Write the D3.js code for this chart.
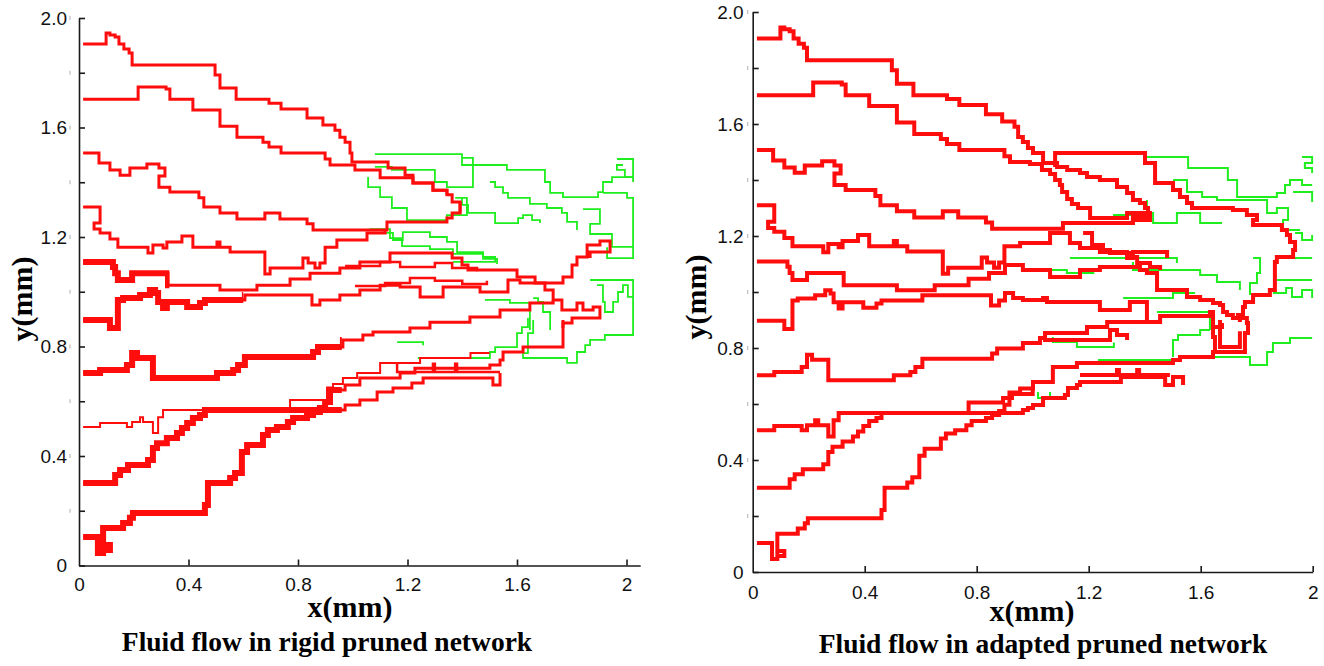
<!DOCTYPE html>
<html>
<head>
<meta charset="utf-8">
<script src="https://cdnjs.cloudflare.com/ajax/libs/d3/7.8.5/d3.min.js"></script>
<style>
  body { margin: 0; background: #fff; }
  .tick text { font-family: "Liberation Sans", Arial, sans-serif; font-size: 19px; fill: #111; }
  .axis path, .axis line { stroke: #1a1a1a; stroke-width: 1.6; }
  .title { font-family: "Liberation Serif", "Times New Roman", serif; font-weight: bold; fill: #000; }
</style>
</head>
<body>
<div id="chart"></div>
<script>
// tick values and labels (mm)
var xTicks = [0, 0.4, 0.8, 1.2, 1.6, 2];
var xLabels = ["0", "0.4", "0.8", "1.2", "1.6", "2"];
var yTicks = [0, 0.2, 0.4, 0.6, 0.8, 1.0, 1.2, 1.4, 1.6, 1.8, 2.0];
var yLabels = ["0", "", "0.4", "", "0.8", "", "1.2", "", "1.6", "", "2.0"];

// red flow paths: inlet parts are the same in both networks (x, y in mm, step corners)
var headA = [[0.015,1.905],[0.099,1.945],[0.113,1.938],[0.132,1.931],[0.146,1.905],[0.164,1.887],[0.183,1.872],[0.194,1.828],[0.497,1.792],[0.515,1.744],[0.574,1.703],[0.694,1.689],[0.738,1.668],[0.833,1.635],[0.891,1.609],[0.935,1.590]];
var headB = [[0.015,1.703],[0.216,1.748],[0.318,1.741],[0.332,1.703],[0.416,1.664],[0.515,1.605],[0.577,1.564],[0.672,1.546],[0.694,1.529],[0.738,1.507],[0.899,1.485]];
var headC = [[0.015,1.507],[0.073,1.470],[0.113,1.445],[0.150,1.426],[0.186,1.452],[0.248,1.467],[0.292,1.452],[0.314,1.423],[0.292,1.382],[0.332,1.364],[0.438,1.343],[0.456,1.310],[0.515,1.288],[0.577,1.266],[0.679,1.288],[0.734,1.266],[0.833,1.248],[0.855,1.226]];
var headD = [[0.015,1.310],[0.077,1.251],[0.055,1.229],[0.077,1.215],[0.113,1.193],[0.142,1.163],[0.252,1.142],[0.270,1.171],[0.307,1.160],[0.321,1.182],[0.376,1.204],[0.416,1.163],[0.504,1.182],[0.515,1.163],[0.552,1.145],[0.679,1.065],[0.698,1.087],[0.818,1.123],[0.837,1.105],[0.862,1.087],[0.880,1.105],[0.899,1.163]];
var headE = [[0.015,1.109],[0.124,1.090],[0.132,1.068],[0.142,1.043],[0.194,1.068],[0.325,1.024],[0.515,1.006],[0.650,1.024],[0.771,1.047],[0.844,1.068]];
var headF = [[0.015,0.897],[0.113,0.868],[0.142,0.970],[0.161,0.977],[0.223,0.988],[0.259,1.006],[0.278,0.995],[0.289,0.963],[0.307,0.941],[0.321,0.963],[0.395,0.944],[0.442,0.959],[0.460,0.970],[0.606,0.988],[0.851,0.952],[0.880,0.970]];
var headG = [[0.015,0.703],[0.077,0.714],[0.175,0.732],[0.194,0.776],[0.212,0.758],[0.270,0.685],[0.504,0.703],[0.563,0.714],[0.581,0.732],[0.606,0.762],[0.855,0.780],[0.873,0.798]];
var headH = [[0.015,0.506],[0.077,0.521],[0.175,0.506],[0.194,0.524],[0.223,0.542],[0.234,0.524],[0.270,0.484],[0.289,0.542],[0.307,0.568],[0.771,0.605]];
var headI = [[0.015,0.301],[0.132,0.331],[0.150,0.349],[0.179,0.367],[0.252,0.385],[0.270,0.429],[0.285,0.447],[0.321,0.466],[0.358,0.484],[0.376,0.502],[0.395,0.521],[0.416,0.539],[0.442,0.550],[0.460,0.568]];
var headJ = [[0.015,0.104],[0.069,0.046],[0.088,0.075],[0.113,0.057],[0.088,0.137],[0.161,0.155],[0.186,0.174],[0.197,0.192],[0.460,0.221],[0.471,0.301],[0.552,0.320],[0.570,0.338],[0.595,0.415],[0.614,0.440],[0.672,0.477],[0.690,0.495],[0.723,0.506],[0.763,0.524],[0.782,0.539],[0.833,0.550],[0.855,0.561],[0.880,0.575],[0.899,0.597],[0.917,0.641]];

// rigid network: outlet parts
var rigidTailA = [[0.953,1.564],[0.972,1.546],[0.990,1.507],[0.997,1.474],[1.129,1.452],[1.191,1.426],[1.220,1.397],[1.293,1.371],[1.344,1.354],[1.363,1.328],[1.392,1.288]];
var rigidTailB = [[0.917,1.463],[1.008,1.445],[1.100,1.416],[1.220,1.397],[1.293,1.371],[1.344,1.354]];
var rigidTailC = [[1.125,1.255],[1.344,1.269],[1.363,1.288],[1.392,1.328]];
var rigidTailD = [[0.942,1.189],[1.052,1.215],[1.118,1.226]];
var rigidTailE = [[0.953,1.087],[1.026,1.109],[1.136,1.142],[1.363,1.123],[1.399,1.098],[1.421,1.079],[1.600,1.054],[1.666,1.032],[1.768,1.054],[1.801,1.098],[1.819,1.127],[1.856,1.171],[1.903,1.185],[1.940,1.145],[1.867,1.123]];
var rigidTailF = [[0.953,0.988],[1.026,1.006],[1.100,1.024],[1.173,1.017],[1.246,0.981],[1.330,1.017],[1.465,0.999],[1.567,1.043],[1.611,1.032],[1.702,1.006],[1.732,0.970],[1.764,0.933],[1.819,0.959],[1.841,0.933],[1.878,0.944],[1.903,0.904],[1.801,0.886],[1.768,0.868]];
var rigidTailG = [[0.964,0.824],[1.037,0.842],[1.074,0.853],[1.209,0.868],[1.282,0.889],[1.428,0.908],[1.538,0.933],[1.647,0.959],[1.732,0.970]];
var rigidTailH = [[0.906,0.650],[0.928,0.663],[0.964,0.685],[1.016,0.703],[1.100,0.740],[1.246,0.758],[1.430,0.776],[1.500,0.776]];
var rigidTailI = [[0.972,0.586],[1.026,0.605],[1.089,0.634],[1.147,0.648],[1.216,0.667],[1.257,0.685],[1.512,0.659],[1.538,0.703]];
var rigidTailJ = [[0.972,0.659],[1.026,0.685],[1.173,0.703],[1.227,0.721],[1.501,0.732],[1.538,0.751],[1.549,0.780],[1.622,0.798],[1.768,0.897]];
var rigidBranch1 = [[1.162,0.740],[1.162,0.707],[1.293,0.737],[1.300,0.707],[1.374,0.737],[1.381,0.707],[1.538,0.707]];
var rigidBranch2 = [[0.972,1.094],[1.100,1.109],[1.173,1.090],[1.300,1.105],[1.363,1.087],[1.454,1.075]];
var rigidBranch3 = [[1.008,1.021],[1.118,1.032],[1.209,1.050],[1.300,1.040],[1.400,1.028],[1.490,1.040]];

// adapted network: outlet parts
var adaptTailA = [[0.948,1.554],[0.965,1.536],[0.983,1.514],[1.001,1.496],[1.037,1.461],[1.087,1.446],[1.123,1.436],[1.169,1.425],[1.194,1.411],[1.240,1.400],[1.301,1.375],[1.337,1.354],[1.358,1.329],[1.383,1.318],[1.401,1.300],[1.412,1.268],[1.358,1.246],[1.323,1.246]];
var adaptTailB = [[0.919,1.464],[0.990,1.457],[1.033,1.436],[1.062,1.421],[1.080,1.400],[1.097,1.382],[1.105,1.357],[1.123,1.332],[1.140,1.314],[1.162,1.300],[1.205,1.264],[1.337,1.282],[1.419,1.268]];
var adaptTailC = [[1.108,1.246],[1.358,1.257],[1.419,1.268]];
var adaptTailD = [[0.955,1.175],[1.062,1.186],[1.062,1.211],[1.133,1.175],[1.169,1.157],[1.240,1.143],[1.337,1.121],[1.358,1.143],[1.480,1.121]];
var adaptTailE = [[0.901,1.096],[0.965,1.079],[1.062,1.054],[1.169,1.079],[1.240,1.089],[1.383,1.079],[1.408,1.068],[1.444,1.043],[1.444,1.007],[1.551,0.982],[1.598,0.971],[1.644,0.961],[1.669,0.954],[1.680,0.929],[1.694,0.918],[1.715,0.907],[1.740,0.893]];
var adaptTailF = [[0.901,0.996],[0.930,0.979],[0.965,0.971],[1.037,0.979],[1.051,0.964],[1.072,0.964],[1.240,0.936],[1.347,0.964],[1.408,0.964],[1.408,0.900]];
var adaptTailG = [[0.965,0.818],[1.026,0.836],[1.044,0.854],[1.194,0.875],[1.266,0.893],[1.455,0.914],[1.633,0.929],[1.644,0.875]];
var adaptTailH = [[0.894,0.621],[0.926,0.636],[1.000,0.655]];
var adaptTailI = [[0.965,0.579],[0.983,0.586],[1.001,0.596],[1.037,0.621],[1.115,0.632],[1.126,0.657],[1.158,0.668],[1.169,0.679],[1.315,0.696],[1.473,0.668],[1.501,0.696],[1.537,0.668]];
var adaptTailJ = [[0.955,0.655],[1.001,0.679],[1.072,0.696],[1.072,0.732],[1.144,0.732],[1.158,0.746],[1.240,0.746],[1.501,0.757],[1.526,0.768],[1.620,0.768],[1.644,0.786],[1.758,0.786]];
var adaptCollector = [[1.080,1.446],[1.080,1.496],[1.401,1.461],[1.437,1.389],[1.501,1.364],[1.526,1.339],[1.551,1.318],[1.569,1.300],[1.715,1.293],[1.765,1.275],[1.801,1.257],[1.787,1.239],[1.890,1.221],[1.908,1.204],[1.919,1.179],[1.937,1.150],[1.930,1.125],[1.872,1.107],[1.865,1.007],[1.847,0.989],[1.787,0.964],[1.758,0.946],[1.751,0.918],[1.733,0.907],[1.765,0.889],[1.769,0.854],[1.758,0.786],[1.651,0.786],[1.651,0.839],[1.644,0.875],[1.676,0.889]];
var adaptLoop = [[1.669,0.900],[1.669,0.804],[1.740,0.804],[1.740,0.860]];
var adaptBranch1 = [[1.037,0.829],[1.276,0.864],[1.301,0.846],[1.337,0.829]];
var adaptBranch2 = [[1.169,0.704],[1.301,0.721],[1.308,0.704],[1.373,0.721],[1.380,0.704],[1.490,0.704]];
var adaptBranch3 = [[1.180,1.211],[1.212,1.168],[1.251,1.150],[1.276,1.139],[1.347,1.125],[1.373,1.104],[1.419,1.089],[1.455,1.079]];

// green (unused) vessel segments
var rigidGreen = [
  [[1.081,1.503],[1.399,1.463],[1.563,1.445],[1.702,1.401],[1.721,1.361],[1.768,1.346],[1.896,1.364],[1.914,1.401],[1.947,1.419],[2.024,1.401]],
  [[1.965,1.485],[2.024,1.419],[1.994,1.445],[1.965,1.463],[1.987,1.463]],
  [[1.914,1.361],[2.002,1.343],[2.024,1.123],[1.929,1.163]],
  [[1.081,1.456],[1.143,1.445],[1.300,1.401],[1.344,1.382],[1.439,1.489],[1.399,1.489]],
  [[1.056,1.419],[1.056,1.382],[1.100,1.346],[1.143,1.306],[1.198,1.262],[1.337,1.262],[1.344,1.280],[1.417,1.343],[1.374,1.343]],
  [[1.399,1.343],[1.399,1.317],[1.421,1.288],[1.520,1.251],[1.604,1.269],[1.622,1.280],[1.655,1.262],[1.684,1.251]],
  [[1.501,1.401],[1.520,1.382],[1.549,1.361],[1.567,1.343],[1.647,1.321],[1.709,1.306],[1.764,1.288],[1.783,1.255],[1.819,1.226]],
  [[1.841,1.302],[1.903,1.248],[1.867,1.211],[1.947,1.164],[2.024,1.164]],
  [[1.100,1.215],[1.147,1.189],[1.183,1.218],[1.282,1.200],[1.344,1.182],[1.381,1.145],[1.476,1.127],[1.520,1.109],[1.366,1.109]],
  [[1.063,1.229],[1.136,1.196],[1.180,1.167],[1.282,1.156],[1.366,1.138],[1.476,1.120],[1.527,1.101]],
  [[1.483,0.970],[1.574,0.959],[1.647,0.860]],
  [[1.659,0.977],[1.677,0.963],[1.695,0.926],[1.721,0.860]],
  [[1.867,1.043],[2.024,0.842],[1.921,0.824],[1.867,0.805],[1.849,0.780],[1.819,0.740],[1.783,0.758],[1.622,0.776],[1.640,0.849],[1.659,0.897]],
  [[1.892,1.024],[1.914,0.963],[1.921,0.926],[1.951,0.963],[1.969,0.999],[1.987,1.024],[2.005,0.981],[2.024,0.981]],
  [[1.238,0.758],[1.501,0.780],[1.520,0.798],[1.600,0.849],[1.618,0.871],[1.640,0.904]],
  [[1.162,0.816],[1.257,0.805]]
];
var adaptGreen = [
  [[1.401,1.482],[1.555,1.443],[1.697,1.400],[1.730,1.339],[1.872,1.354],[1.901,1.382],[1.919,1.400],[1.962,1.382],[1.998,1.382]],
  [[1.501,1.400],[1.551,1.357],[1.605,1.339],[1.658,1.329],[1.837,1.282],[1.872,1.300],[1.912,1.257],[1.894,1.221],[1.955,1.221]],
  [[1.962,1.482],[1.998,1.461],[1.972,1.443],[1.998,1.425]],
  [[1.930,1.357],[1.998,1.321]],
  [[1.937,1.211],[1.962,1.186],[1.998,1.204]],
  [[1.919,1.121],[1.998,1.121]],
  [[1.787,1.121],[1.812,1.068],[1.801,1.032],[1.776,0.989]],
  [[1.872,1.043],[1.998,1.043]],
  [[1.858,0.996],[1.905,1.014],[1.926,0.982],[1.962,1.007],[1.998,0.979]],
  [[1.287,1.275],[1.358,1.275]],
  [[1.408,1.329],[1.408,1.282],[1.430,1.246],[1.515,1.282],[1.598,1.246],[1.676,1.246]],
  [[1.133,1.121],[1.515,1.104]],
  [[1.358,1.107],[1.358,1.079],[1.598,1.061],[1.658,1.036],[1.740,1.007]],
  [[1.323,0.979],[1.501,0.996],[1.580,0.996]],
  [[1.444,0.929],[1.633,0.864]],
  [[1.501,0.768],[1.501,0.829],[1.519,0.846],[1.598,0.864],[1.633,0.864]],
  [[1.233,0.757],[1.501,0.757]],
  [[1.615,0.768],[1.776,0.739],[1.837,0.786],[1.858,0.818],[1.919,0.836],[1.998,0.836]],
  [[1.072,0.839],[1.072,0.821],[1.158,0.804],[1.240,0.804],[1.290,0.820]],
  [[1.019,0.643],[1.019,0.621],[1.062,0.643]],
  [[1.062,1.079],[1.122,1.068],[1.220,1.068]]
];

var RED = "#ff0d0d", GREEN = "#1eee1e";

// rigid: some inlet lines drawn heavier up to a given x (mm)
var rigidRed = [
  { pts: headA.concat(rigidTailA), w: 3 },
  { pts: headB.concat(rigidTailB), w: 3 },
  { pts: headC.concat(rigidTailC), w: 3 },
  { pts: headD.concat(rigidTailD), w: 3 },
  { pts: headE.concat(rigidTailE), w: 3, thickTo: 0.33 },
  { pts: headF.concat(rigidTailF), w: 3, thickTo: 0.60 },
  { pts: headG.concat(rigidTailG), w: 3, thickTo: 0.96 },
  { pts: headH.concat(rigidTailH), w: 2 },
  { pts: headI.concat(rigidTailI), w: 3, thickTo: 0.96 },
  { pts: headJ.concat(rigidTailJ), w: 3, thickTo: 0.96 },
  { pts: rigidBranch1, w: 2.5 },
  { pts: rigidBranch2, w: 2.5 },
  { pts: rigidBranch3, w: 2.5 }
];
var adaptRed = [
  headA.concat(adaptTailA), headB.concat(adaptTailB), headC.concat(adaptTailC),
  headD.concat(adaptTailD), headE.concat(adaptTailE), headF.concat(adaptTailF),
  headG.concat(adaptTailG), headH.concat(adaptTailH), headI.concat(adaptTailI),
  headJ.concat(adaptTailJ), adaptCollector, adaptLoop, adaptBranch1, adaptBranch2, adaptBranch3
].map(function(p) { return { pts: p, w: 4 }; });

var svg = d3.select("#chart").append("svg")
  .attr("width", 1324)
  .attr("height", 666);

function drawPanel(cfg) {
  var x = d3.scaleLinear().domain([0, cfg.xMax]).range([cfg.left, cfg.right]);
  var y = d3.scaleLinear().domain([0, 2]).range([cfg.bottom, cfg.top]);
  var line = d3.line()
    .x(function(d) { return x(d[0]); })
    .y(function(d) { return y(d[1]); })
    .curve(d3.curveStepAfter);

  var defs = svg.append("defs");
  defs.append("clipPath").attr("id", cfg.id + "-plot").append("rect")
    .attr("x", x(0)).attr("y", y(2) - 10)
    .attr("width", x(cfg.xMax) - x(0) + 1).attr("height", y(0) - y(2) + 10);

  var plot = svg.append("g").attr("clip-path", "url(#" + cfg.id + "-plot)");

  plot.selectAll("path.green").data(cfg.green).join("path")
    .attr("class", "green")
    .attr("d", line)
    .attr("fill", "none")
    .attr("stroke", GREEN)
    .attr("stroke-width", cfg.greenWidth)
    .attr("stroke-linejoin", "miter");

  cfg.red.forEach(function(r, i) {
    plot.append("path")
      .attr("d", line(r.pts))
      .attr("fill", "none")
      .attr("stroke", RED)
      .attr("stroke-width", r.w)
      .attr("stroke-linejoin", "miter");
    if (r.thickTo) {
      var id = cfg.id + "-thick" + i;
      defs.append("clipPath").attr("id", id).append("rect")
        .attr("x", x(0) - 10).attr("y", y(2) - 10)
        .attr("width", x(r.thickTo) - x(0) + 10).attr("height", y(0) - y(2) + 20);
      plot.append("g").attr("clip-path", "url(#" + id + ")")
        .append("path")
        .attr("d", line(r.pts))
        .attr("fill", "none")
        .attr("stroke", RED)
        .attr("stroke-width", 6)
        .attr("stroke-linejoin", "miter");
    }
  });

  // axes
  var xAxis = d3.axisBottom(x)
    .tickValues(xTicks)
    .tickFormat(function(d, i) { return xLabels[i]; })
    .tickSize(-6).tickSizeOuter(0).tickPadding(cfg.xPad);
  var gx = svg.append("g").attr("class", "axis")
    .attr("transform", "translate(0," + y(0) + ")")
    .call(xAxis);
  gx.selectAll(".tick").filter(function(d) { return d === 0; }).select("line").remove();

  var yAxis = d3.axisLeft(y)
    .tickValues(yTicks)
    .tickFormat(function(d, i) { return yLabels[i]; })
    .tickSize(-6).tickSizeOuter(0).tickPadding(cfg.yPad);
  svg.append("g").attr("class", "axis")
    .attr("transform", "translate(" + x(0) + ",0)")
    .call(yAxis);

  // faint marks just outside the y axis
  svg.append("g").selectAll("line").data(yTicks.slice(1)).join("line")
    .attr("x1", x(0) - cfg.markGap).attr("x2", x(0) - cfg.markGap)
    .attr("y1", function(d) { return y(d) - 2; })
    .attr("y2", function(d) { return y(d) + 2; })
    .attr("stroke", "#b0b0b0").attr("stroke-width", 1);

  // titles
  svg.append("text").attr("class", "title")
    .attr("transform", "translate(" + cfg.yTitleX + "," + cfg.yTitleY + ") rotate(-90)")
    .attr("text-anchor", "middle")
    .style("font-size", "30px")
    .text("y(mm)");
  svg.append("text").attr("class", "title")
    .attr("x", cfg.xTitleX).attr("y", cfg.xTitleY)
    .attr("text-anchor", "middle")
    .style("font-size", "30px")
    .text("x(mm)");
  svg.append("text").attr("class", "title")
    .attr("x", cfg.capX).attr("y", cfg.capY)
    .attr("text-anchor", "middle")
    .style("font-size", "27.5px")
    .text(cfg.caption);
}

drawPanel({
  id: "rigid", xMax: 2.05, left: 79, right: 640.2, bottom: 565.5, top: 18,
  red: rigidRed, green: rigidGreen, greenWidth: 1.8,
  xPad: 12, yPad: 12, markGap: 9,
  yTitleX: 32, yTitleY: 299, xTitleX: 350, xTitleY: 617,
  capX: 327, capY: 651, caption: "Fluid flow in rigid pruned network"
});

drawPanel({
  id: "adapted", xMax: 2, left: 752.7, right: 1312.7, bottom: 572, top: 12,
  red: adaptRed, green: adaptGreen, greenWidth: 2,
  xPad: 14, yPad: 9, markGap: 5,
  yTitleX: 706, yTitleY: 297, xTitleX: 1032, xTitleY: 621,
  capX: 1043, capY: 653, caption: "Fluid flow in adapted pruned network"
});
</script>
</body>
</html>
